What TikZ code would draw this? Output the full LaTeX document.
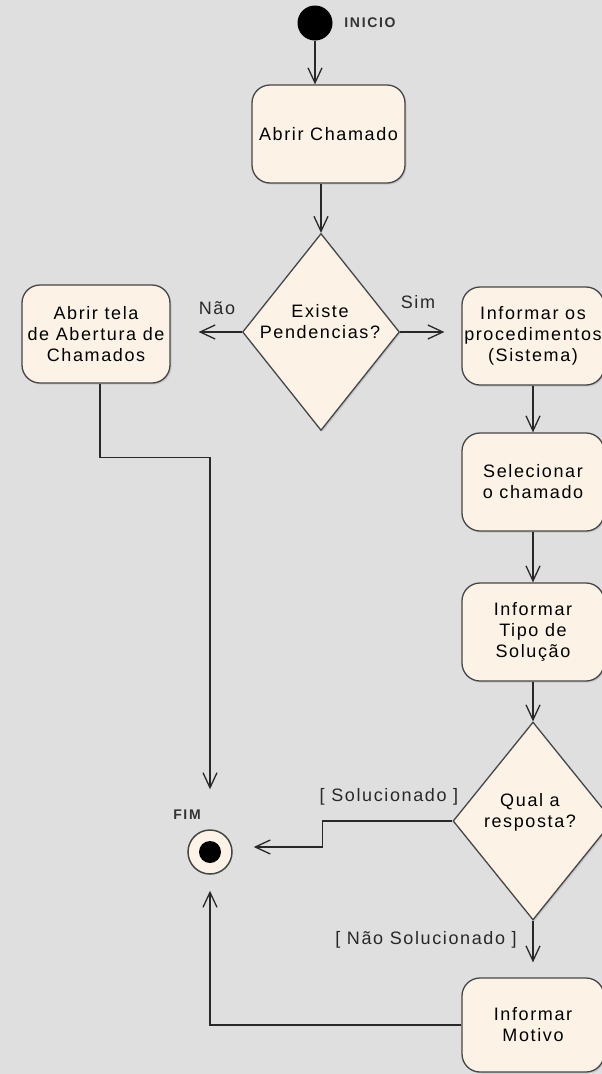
\documentclass[tikz,border=0pt]{standalone}
\usepackage{fontspec}
\setmainfont{Liberation Sans}
\newfontfamily\boxfont[LetterSpace=9]{Liberation Sans}
\newfontfamily\tagfont[LetterSpace=12]{Liberation Sans}
\usetikzlibrary{shapes.geometric,arrows.meta,shadows}
\definecolor{bg}{RGB}{223,223,223}
\definecolor{cream}{RGB}{252,243,230}
\definecolor{edgec}{RGB}{70,70,70}
\definecolor{linec}{RGB}{40,40,40}
\begin{document}
\begin{tikzpicture}[x=1pt,y=-1pt,
  txt/.style={align=center,inner sep=0pt,text=black,font=\boxfont\fontsize{18}{21}\selectfont},
  act/.style={txt,draw=edgec,line width=1.3pt,fill=cream,rounded corners=18pt,minimum height=98pt,
    drop shadow={shadow xshift=1.5pt,shadow yshift=-1.5pt,opacity=0.25}},
  dia/.style={diamond,draw=edgec,line width=1.3pt,fill=cream,inner sep=0pt,
    drop shadow={shadow xshift=1.5pt,shadow yshift=-1.5pt,opacity=0.25}},
  lbl/.style={txt,text=linec},
  tagl/.style={inner sep=0pt,text=black!80,font=\tagfont\bfseries\fontsize{14}{16}\selectfont},
  arr/.style={draw=linec,line width=1.3pt,-{Straight Barb[length=15pt,width=14pt]}}]
\useasboundingbox (0,0) rectangle (602,1074);
\clip (0,0) rectangle (602,1074);
\fill[bg] (0,0) rectangle (602,1074);

% nodes
\node[circle,fill=black,minimum size=35pt,inner sep=0pt] (start) at (315,23) {};
\node[tagl] (inicio) at (370,23) {INICIO};
\node[act,minimum width=153pt] (A) at (328.5,134) {Abrir Chamado};
\node[dia,minimum width=157pt,minimum height=197pt] (d1) at (321,332) {};
\node[txt] (d1t) at (320,322) {Existe\\Pendencias?};
\node[act,minimum width=148pt] (L) at (96,334) {Abrir tela\\de Abertura de\\Chamados};
\node[act,minimum width=142pt] (R1) at (533,336) {Informar os\\procedimentos\\(Sistema)};
\node[act,minimum width=142pt] (R2) at (533,482) {Selecionar\\o chamado};
\node[act,minimum width=142pt] (R3) at (533,632) {Informar\\Tipo de\\Solução};
\node[dia,minimum width=160pt,minimum height=198pt] (d2) at (533,821) {};
\node[txt] (d2t) at (530,812) {Qual a\\resposta?};
\node[act,minimum width=142pt,minimum height=94pt] (R4) at (533,1025) {Informar\\Motivo};
\node[circle,draw=edgec,line width=1.5pt,fill=cream,minimum size=44pt,inner sep=0pt] (fim) at (210,852) {};
\node[circle,fill=black,minimum size=22pt,inner sep=0pt] (fimdot) at (fim) {};
\node[tagl] (fimlbl) at (187,815) {FIM};

% labels
\node[lbl] (nao) at (217,308) {Não};
\node[lbl] (sim) at (418,302) {Sim};
\node[lbl] (sol) at (389,797) {[ Solucionado ]};
\node[lbl] (nsol) at (426,940) {[ Não Solucionado ]};

% connectors
\draw[arr] (start.south) -- (start.south |- A.north);
\draw[arr] (A.south -| d1.north) -- (d1.north);
\draw[arr,shorten >=28pt] (d1.west) -- (d1.west -| L.east);
\draw[arr,shorten >=17pt] (d1.east) -- (d1.east -| R1.west);
\draw[arr] (R1.south) -- (R2.north);
\draw[arr] (R2.south) -- (R3.north);
\draw[arr] (R3.south) -- (d2.north);
\draw[arr,shorten >=15pt] (d2.south) -- (R4.north);
\draw[arr,shorten >=40pt] ([xshift=4pt]L.south) -- ++(0,74) -| (fim.north);
\draw[arr,shorten >=21pt] (d2.west) -- ++(-130,0) |- ([yshift=5pt]fim.east);
\draw[arr,shorten >=16pt] (R4.west) -| (fim.south);
\end{tikzpicture}
\end{document}
